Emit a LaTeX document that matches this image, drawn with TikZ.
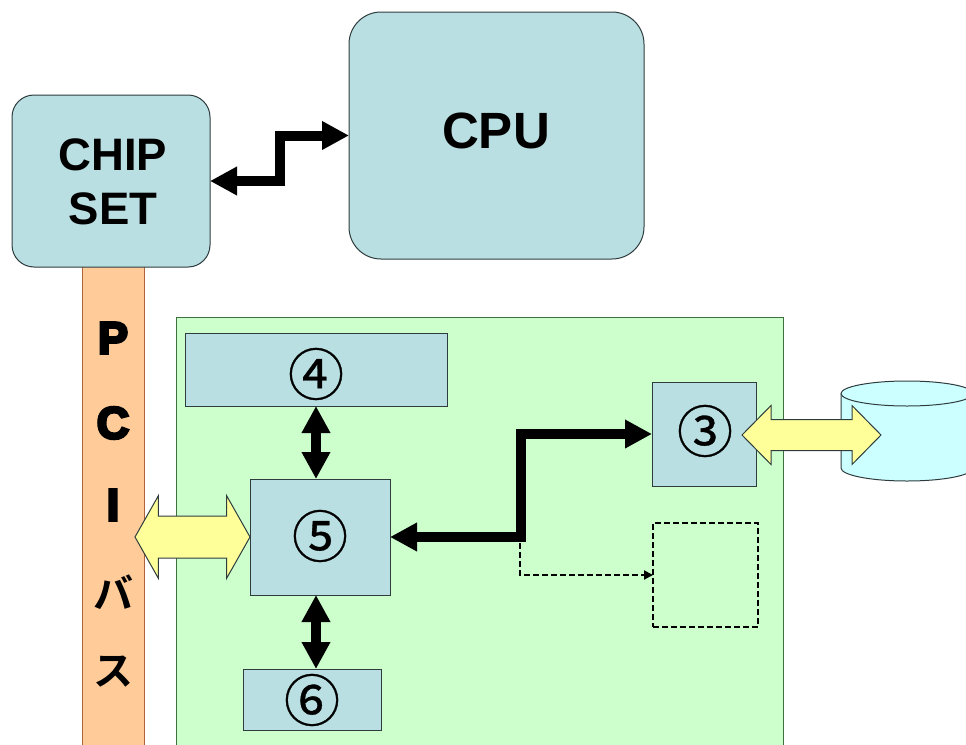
\documentclass[tikz,border=0pt]{standalone}
\usepackage{fontspec}
\setmainfont{Liberation Sans}
\newfontfamily\cjk[FakeBold=0.6]{Noto Sans CJK JP}
\newfontfamily\heavy[FakeBold=6]{Liberation Sans Bold}
\newfontfamily\cjkbold{Noto Sans CJK JP Bold}
\usetikzlibrary{arrows.meta,shapes.arrows,calc}
\definecolor{boxfill}{HTML}{B9DFE2}
\definecolor{boxline}{HTML}{2F3C3E}
\definecolor{busfill}{HTML}{FFCC99}
\definecolor{busline}{HTML}{B0623A}
\definecolor{cardfill}{HTML}{CCFFCC}
\definecolor{cardline}{HTML}{3F6F3F}
\definecolor{arrowfill}{HTML}{FFFF99}
\definecolor{diskfill}{HTML}{CCFFFF}
\tikzset{
  x=1pt,y=-1pt,
  every node/.style={inner sep=0pt,outer sep=0pt},
  chipbox/.style={draw=boxline,fill=boxfill,line width=1pt,minimum width=#1},
  capfont/.style={font=\bfseries\fontsize{45.5}{54}\selectfont,align=center},
  numfont/.style={font=\cjk\fontsize{56}{56}\selectfont},
  busfont/.style={font=\heavy\fontsize{45}{46}\selectfont},
  kanafont/.style={font=\cjkbold\fontsize{40}{40}\selectfont},
  thick link/.style={line width=10pt,draw=black,{Triangle[length=27pt,width=27pt]}-{Triangle[length=27pt,width=27pt]}},
  thin dashed link/.style={line width=2pt,draw=black,dash pattern=on 6pt off 3pt,-{Triangle[length=9pt,width=9pt]}},
  yellow arrow/.style={shape=double arrow,draw=boxline,fill=arrowfill,line width=1pt},
}
\begin{document}
\begin{tikzpicture}
\clip (0,0) rectangle (966,744);
\fill[white] (0,0) rectangle (966,744);
% PCI bus and card
\path[fill=busfill] (82,260) rectangle (144,760);
\draw[busline,line width=1pt] (82,260) -- (82,760) (144,260) -- (144,760);
\path[fill=cardfill,draw=cardline,line width=1pt] (176,760) -- (176,317) -- (783,317) -- (783,760);
% top boxes
\node[chipbox=198pt,minimum height=172pt,rounded corners=22pt] (chip) at (111,181) {};
\node[chipbox=295pt,minimum height=247pt,rounded corners=32pt] (cpu) at (496.5,135.5) {};
\node[capfont] (chiptext) at (113,155) {CHIP};
\node[capfont] (settext) at (113,209) {SET};
\node[font=\bfseries\fontsize{51}{54}\selectfont] (cputext) at (496,131) {CPU};
% bus labels
\node[busfont] (p) at (113,338) {P};
\node[busfont] (c) at (113,423) {C};
\node[busfont] (i) at (113,505) {I};
\node[kanafont] (ba) at (113,592) {バ};
\node[kanafont] (su) at (113,672) {ス};
% card boxes
\node[chipbox=262pt,minimum height=73pt] (n4) at (316,369.5) {};
\node[chipbox=140pt,minimum height=116pt] (n5) at (320,537) {};
\node[chipbox=138pt,minimum height=61pt] (n6) at (312,699.5) {};
\node[chipbox=104pt,minimum height=104pt] (n3) at (704,434) {};
\node[draw=black,line width=2pt,dash pattern=on 6pt off 3pt,minimum width=105pt,minimum height=104pt] (spare) at (705.5,575) {};
\node[numfont] (t4) at (316,374) {④};
\node[numfont] (t5) at (320,536) {⑤};
\node[numfont] (t6) at (312,700) {⑥};
\node[numfont] (t3) at (705,431) {③};
% disk
\path[fill=diskfill,draw=boxline,line width=1pt] (841,394) -- (841,468) arc[start angle=180,end angle=0,x radius=66pt,y radius=-13pt] -- (973,394);
\path[fill=diskfill,draw=boxline,line width=1pt] (907,393.5) ellipse[x radius=66pt,y radius=12.5pt];
% connectors
\coordinate (chipbend) at (279.5,181);
\draw[thick link] (chip.east) -- (chipbend) |- (cpu.west);
\draw[thick link] (n4.south) -- (n4.south |- n5.north);
\draw[thick link] (n5.south -| n4.south) -- (n6.north -| n4.south);
\coordinate (branch) at (521,537);
\draw[thick link] (n5.east) -- (branch) |- (n3.west);
\coordinate (branchfoot) at (520,543);
\draw[thin dashed link] (branchfoot) |- (spare.west);
% block arrows
\node[yellow arrow,minimum width=82pt,minimum height=115pt,inner xsep=0pt,inner ysep=20.5pt,double arrow head extend=20.5pt,double arrow tip angle=121] (busarrow) at (192.5,537) {};
\node[yellow arrow,minimum width=58pt,minimum height=139pt,inner xsep=0pt,inner ysep=15pt,double arrow head extend=14pt,double arrow tip angle=91] (diskarrow) at (811.5,435) {};
\end{tikzpicture}
\end{document}
